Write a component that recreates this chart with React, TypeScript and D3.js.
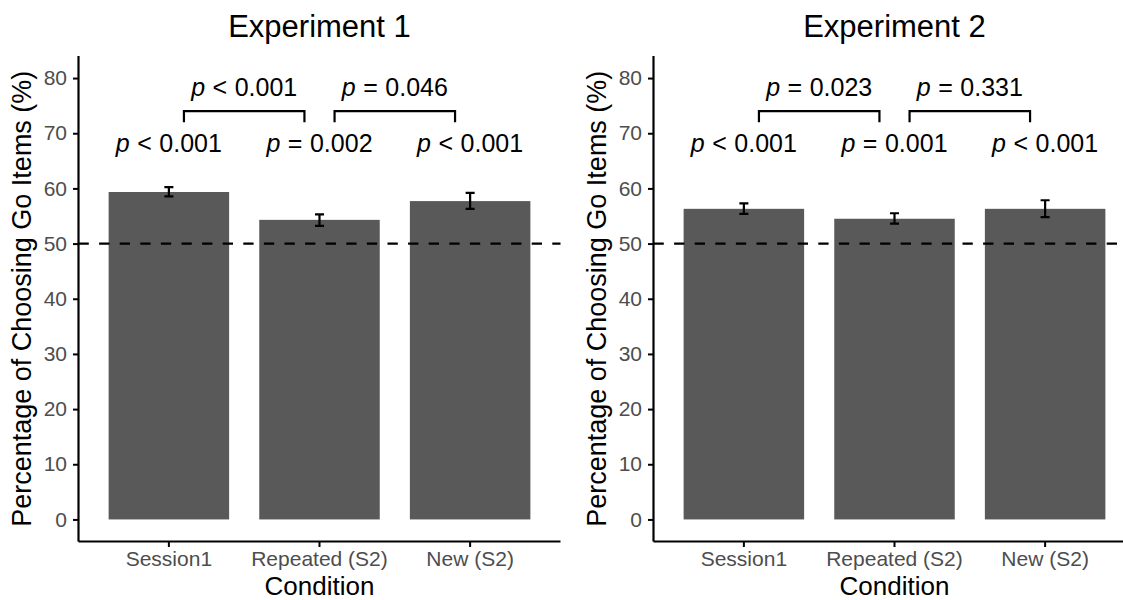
import React, { useEffect, useRef } from "react";
import * as d3 from "d3";

const conditions = ["Session1", "Repeated (S2)", "New (S2)"];

const exp1Means = [59.35, 54.3, 57.7];
const exp1Lower = [58.55, 53.2, 56.3];
const exp1Upper = [60.25, 55.3, 59.2];
const exp1VsChance = ["< 0.001", "= 0.002", "< 0.001"];
const exp1Pairs = ["< 0.001", "= 0.046"];

const exp2Means = [56.3, 54.5, 56.3];
const exp2Lower = [55.4, 53.6, 54.8];
const exp2Upper = [57.3, 55.5, 57.85];
const exp2VsChance = ["< 0.001", "= 0.001", "< 0.001"];
const exp2Pairs = ["= 0.023", "= 0.331"];

const yTicks = [0, 10, 20, 30, 40, 50, 60, 70, 80];
const chanceLevel = 50;

const FONT = "'Liberation Sans', Arial, Helvetica, sans-serif";

type Panel = {
  title: string;
  means: number[];
  lower: number[];
  upper: number[];
  vsChance: string[];
  pairs: string[];
  offset: number;
};

const panels: Panel[] = [
  { title: "Experiment 1", means: exp1Means, lower: exp1Lower, upper: exp1Upper, vsChance: exp1VsChance, pairs: exp1Pairs, offset: 0 },
  { title: "Experiment 2", means: exp2Means, lower: exp2Lower, upper: exp2Upper, vsChance: exp2VsChance, pairs: exp2Pairs, offset: 575 },
];

export default function App() {
  const ref = useRef<SVGSVGElement | null>(null);

  useEffect(() => {
    const svg = d3.select(ref.current);
    svg.selectAll("*").remove();

    const top = 56;
    const bottom = 541.5;

    panels.forEach((p) => {
      const left = 78.5 + p.offset;
      const right = 560.5 + p.offset;
      const g = svg.append("g");

      const x = d3
        .scaleBand()
        .domain(conditions)
        .range([left, right])
        .paddingInner(0.2)
        .paddingOuter(0.2);
      const step = x.step();
      const cx = (c: string) => (x(c) as number) + x.bandwidth() / 2;

      const y = d3.scaleLinear().domain([-4, 84]).range([bottom, top]);

      // bars
      g.selectAll("rect.bar")
        .data(conditions)
        .enter()
        .append("rect")
        .attr("x", (d) => x(d) as number)
        .attr("width", x.bandwidth())
        .attr("y", (d, i) => y(p.means[i]))
        .attr("height", (d, i) => y(0) - y(p.means[i]))
        .attr("fill", "#595959");

      // chance line
      g.append("line")
        .attr("x1", left)
        .attr("x2", right)
        .attr("y1", y(chanceLevel))
        .attr("y2", y(chanceLevel))
        .attr("stroke", "#000")
        .attr("stroke-width", 2.2)
        .attr("stroke-dasharray", "10.3,10.3");

      // error bars
      const capW = 0.03 * step;
      conditions.forEach((c, i) => {
        const xc = cx(c);
        const path = d3.path();
        path.moveTo(xc - capW, y(p.upper[i]));
        path.lineTo(xc + capW, y(p.upper[i]));
        path.moveTo(xc, y(p.upper[i]));
        path.lineTo(xc, y(p.lower[i]));
        path.moveTo(xc - capW, y(p.lower[i]));
        path.lineTo(xc + capW, y(p.lower[i]));
        g.append("path")
          .attr("d", path.toString())
          .attr("fill", "none")
          .attr("stroke", "#000")
          .attr("stroke-width", 2.2);
      });

      const pLabel = (sel: any, txt: string) => {
        const [rel, num] = txt.split(" ");
        sel.append("tspan").attr("font-style", "italic").text("p");
        sel.append("tspan").attr("dx", 7.5).text(rel);
        sel.append("tspan").attr("dx", 7.5).text(num);
      };

      // p vs chance
      conditions.forEach((c, i) => {
        const t = g
          .append("text")
          .attr("x", cx(c))
          .attr("y", y(66.6))
          .attr("text-anchor", "middle")
          .attr("font-family", FONT)
          .attr("font-size", 25)
          .attr("fill", "#000");
        pLabel(t, p.vsChance[i]);
      });

      // pairwise brackets
      p.pairs.forEach((txt, i) => {
        const x1 = cx(conditions[i]) + 0.1 * step;
        const x2 = cx(conditions[i + 1]) - 0.1 * step;
        const path = d3.path();
        path.moveTo(x1, y(72));
        path.lineTo(x1, y(74));
        path.lineTo(x2, y(74));
        path.lineTo(x2, y(72));
        g.append("path")
          .attr("d", path.toString())
          .attr("fill", "none")
          .attr("stroke", "#000")
          .attr("stroke-width", 2.2);
        const t = g
          .append("text")
          .attr("x", (x1 + x2) / 2)
          .attr("y", y(76.7))
          .attr("text-anchor", "middle")
          .attr("font-family", FONT)
          .attr("font-size", 25)
          .attr("fill", "#000");
        pLabel(t, txt);
      });

      // y axis
      const yAxis = g
        .append("g")
        .attr("transform", `translate(${left},0)`)
        .call(d3.axisLeft(y).tickValues(yTicks).tickSize(5.5).tickPadding(6));
      yAxis.select(".domain").attr("d", `M0,${top}V${bottom}`).attr("stroke-width", 2.2);
      yAxis.selectAll(".tick line").attr("stroke-width", 2);
      yAxis
        .selectAll(".tick text")
        .attr("font-family", FONT)
        .attr("font-size", 21)
        .attr("fill", "#4D4D4D");

      // x axis
      const xAxis = g
        .append("g")
        .attr("transform", `translate(0,${bottom})`)
        .call(d3.axisBottom(x).tickSize(5.5).tickPadding(4));
      xAxis.select(".domain").attr("d", `M${left},0H${right}`).attr("stroke-width", 2.2);
      xAxis.selectAll(".tick line").attr("stroke-width", 2);
      xAxis
        .selectAll(".tick text")
        .attr("font-family", FONT)
        .attr("font-size", 21)
        .attr("fill", "#4D4D4D");

      // titles
      g.append("text")
        .attr("x", (left + right) / 2)
        .attr("y", 37.3)
        .attr("text-anchor", "middle")
        .attr("font-family", FONT)
        .attr("font-size", 31)
        .text(p.title);

      g.append("text")
        .attr("x", (left + right) / 2)
        .attr("y", 595)
        .attr("text-anchor", "middle")
        .attr("font-family", FONT)
        .attr("font-size", 26)
        .text("Condition");

      g.append("text")
        .attr("transform", `translate(${30.5 + p.offset},${(top + bottom) / 2}) rotate(-90)`)
        .attr("text-anchor", "middle")
        .attr("font-family", FONT)
        .attr("font-size", 27)
        .text("Percentage of Choosing Go Items (%)");
    });
  }, []);

  return (
    <svg
      ref={ref}
      width={1123}
      height={600}
      style={{ position: "absolute", left: 0, top: 0, background: "#fff" }}
    />
  );
}
